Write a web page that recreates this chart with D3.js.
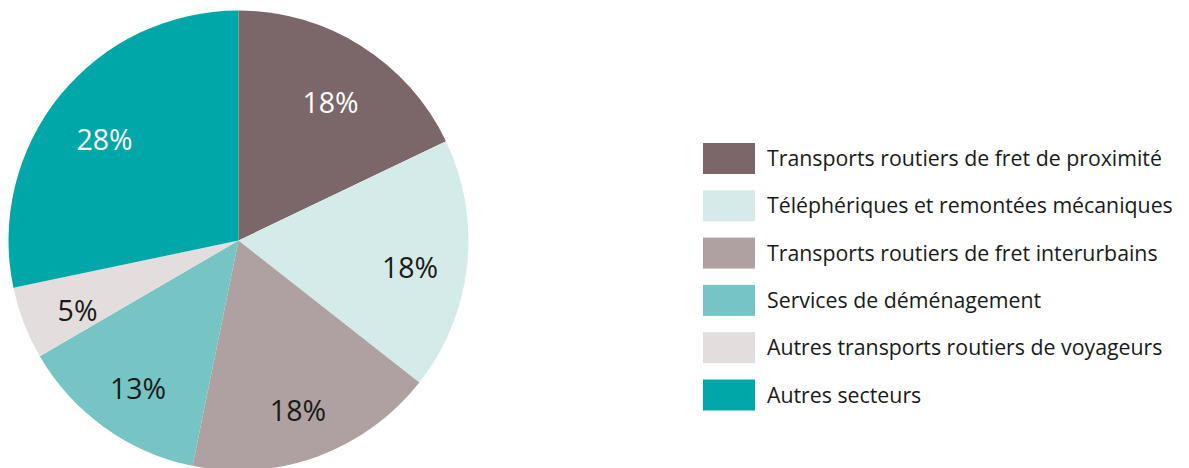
<!DOCTYPE html>
<html><head><meta charset="utf-8">
<script src="https://cdn.jsdelivr.net/npm/d3@7"></script>
<style>body{margin:0;background:#fff;} svg{display:block;}</style>
</head><body>
<svg id="chart" width="1189" height="468"></svg>
<script>
const categories = [
  "Transports routiers de fret de proximité",
  "Téléphériques et remontées mécaniques",
  "Transports routiers de fret interurbains",
  "Services de déménagement",
  "Autres transports routiers de voyageurs",
  "Autres secteurs"
];
const values = [17.9, 17.7, 17.6, 13.4, 5.1, 28.3];
const labels = ["18%", "18%", "18%", "13%", "5%", "28%"];
const colors = ["#7b6669", "#d5ebe9", "#afa1a1", "#77c4c4", "#e3dddd", "#00a7a8"];
const labelColors = ["#ffffff", "#1a1a1a", "#1a1a1a", "#1a1a1a", "#1a1a1a", "#ffffff"];

const svg = d3.select("#chart");
const cx = 238.5, cy = 240.5, R = 230;
const font = "'Open Sans', sans-serif";

const pie = d3.pie().sort(null).value(d => d);
const arcs = pie(values);
const arc = d3.arc().innerRadius(0).outerRadius(R);
const labelArc = d3.arc().innerRadius(R * 0.75).outerRadius(R * 0.75);

const g = svg.append("g").attr("transform", `translate(${cx},${cy})`);
g.selectAll("path").data(arcs).join("path")
  .attr("d", arc)
  .attr("fill", (d, i) => colors[i]);

g.selectAll("text").data(arcs).join("text")
  .attr("transform", d => { const c = labelArc.centroid(d); return `translate(${c[0]},${c[1] + 8})`; })
  .attr("text-anchor", "middle")
  .attr("dy", "0.36em")
  .attr("font-family", font)
  .attr("font-size", 28.5)
  .attr("fill", (d, i) => labelColors[i])
  .text((d, i) => labels[i]);

// legend
const legX = 703, legY = 143, pitch = 47.3, sw = 52, sh = 31;
const leg = svg.append("g");
const rows = leg.selectAll("g").data(categories).join("g")
  .attr("transform", (d, i) => `translate(${legX},${legY + i * pitch})`);
rows.append("rect").attr("width", sw).attr("height", sh)
  .attr("fill", (d, i) => colors[i]);
rows.append("text")
  .attr("x", 64).attr("y", 23)
  .attr("font-family", font)
  .attr("font-size", 21.3)
  .attr("fill", "#1a1a1a")
  .text(d => d);
</script>
</body></html>
